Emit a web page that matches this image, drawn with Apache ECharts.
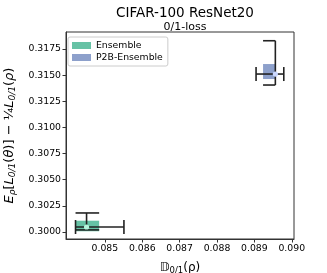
<!DOCTYPE html>
<html><head><meta charset="utf-8">
<script src="https://cdn.jsdelivr.net/npm/echarts@6/dist/echarts.min.js"></script>
<style>html,body{margin:0;padding:0;background:#fff}#c{width:327px;height:273px}</style>
</head><body><div id="c"></div>
<script>
const groups = ['Ensemble', 'P2B-Ensemble'];
const colors = ['#66c2a5', '#8da0cb'];
const pointColors = ['#b4f5dc', '#cbd8ff'];
const meanX = [0.08451, 0.089561];
const meanY = [0.300478, 0.315109];
const xErrLo = [0.084215, 0.089045];
const xErrHi = [0.08551, 0.089787];
const yErrLo = [0.30020, 0.314058];
const yErrHi = [0.30182, 0.318294];
const boxX0 = [0.084215, 0.089232];
const boxX1 = [0.084847, 0.089561];
const boxY0 = [0.30007, 0.314631];
const boxY1 = [0.30108, 0.316066];
const xTicks = [0.085, 0.086, 0.087, 0.088, 0.089, 0.090];
const yTicks = [0.3000, 0.3025, 0.3050, 0.3075, 0.3100, 0.3125, 0.3150, 0.3175];

const chart = echarts.init(document.getElementById('c'));
const ec = '#222';
function makeSeries(i) {
  return {
    name: groups[i], type: 'custom', coordinateSystem: 'cartesian2d',
    itemStyle: {color: colors[i]},
    data: [[meanX[i], meanY[i]]],
    renderItem: function (params, api) {
      const b0 = api.coord([boxX0[i], boxY0[i]]);
      const b1 = api.coord([boxX1[i], boxY1[i]]);
      const m = api.coord([meanX[i], meanY[i]]);
      const xl = api.coord([xErrLo[i], meanY[i]]);
      const xh = api.coord([xErrHi[i], meanY[i]]);
      const yl = api.coord([meanX[i], yErrLo[i]]);
      const yh = api.coord([meanX[i], yErrHi[i]]);
      const ls = {stroke: ec, lineWidth: 1.6};
      const cap = 7;
      return {type: 'group', children: [
        {type: 'rect', shape: {x: Math.min(b0[0], b1[0]), y: Math.min(b0[1], b1[1]), width: Math.abs(b1[0] - b0[0]), height: Math.abs(b1[1] - b0[1])}, style: {fill: colors[i]}},
        {type: 'line', shape: {x1: xl[0], y1: m[1], x2: xh[0], y2: m[1]}, style: ls},
        {type: 'line', shape: {x1: xl[0], y1: m[1] - cap, x2: xl[0], y2: m[1] + cap}, style: ls},
        {type: 'line', shape: {x1: xh[0], y1: m[1] - cap, x2: xh[0], y2: m[1] + cap}, style: ls},
        {type: 'line', shape: {x1: m[0], y1: yl[1], x2: m[0], y2: yh[1]}, style: ls},
        {type: 'line', shape: {x1: b0[0], y1: yh[1], x2: b1[0], y2: yh[1]}, style: ls},
        {type: 'line', shape: {x1: b0[0], y1: yl[1], x2: b1[0], y2: yl[1]}, style: ls},
        {type: 'circle', shape: {cx: m[0], cy: m[1], r: 2.6}, style: {fill: pointColors[i]}}
      ]};
    }
  };
}
const ff = 'DejaVu Sans';
chart.setOption({
  animation: false,
  textStyle: {fontFamily: ff},
  title: [
    {text: 'CIFAR-100 ResNet20', left: 180, top: 1, textAlign: 'center', textStyle: {fontSize: 13.5, fontWeight: 'normal', color: '#000', fontFamily: ff}},
    {text: '0/1-loss', left: 180, top: 17, textAlign: 'center', textStyle: {fontSize: 11, fontWeight: 'normal', color: '#000', fontFamily: ff}}
  ],
  legend: {
    left: 68, top: 37, orient: 'vertical', icon: 'rect', itemWidth: 19, itemHeight: 7, itemGap: 3,
    padding: [4, 5, 4, 4], borderColor: '#ccc', borderWidth: 1, borderRadius: 2,
    textStyle: {fontSize: 9.3, color: '#000', fontFamily: ff},
    data: groups
  },
  grid: {left: 66, right: 33, top: 32, bottom: 34, show: true, borderColor: '#333', borderWidth: 1, containLabel: false, outerBoundsMode: 'none'},
  xAxis: {
    type: 'value', min: 0.08396, max: 0.09006,
    name: '{d|𝔻}{s|0/1}(ρ)', nameLocation: 'middle', nameGap: 21,
    nameTextStyle: {rich: {d: {fontSize: 12, fontFamily: ff, color: '#000'}, s: {fontSize: 8.5, fontFamily: ff, color: '#000', verticalAlign: 'bottom', padding: [6, 0, 0, 0]}}, fontSize: 12, color: '#000'},
    splitLine: {show: false},
    axisLine: {show: true, lineStyle: {color: '#333'}},
    axisTick: {show: true, length: 3.5, customValues: xTicks, lineStyle: {color: '#333'}},
    axisLabel: {customValues: xTicks, fontSize: 9.3, color: '#000', margin: 5, formatter: v => v.toFixed(3)}
  },
  yAxis: {
    type: 'value', min: 0.29933, max: 0.31913,
    name: '{i|E}{s|ρ}[{i|L}{s|0/1}({i|θ})] − ¼{i|L}{s|0/1}({i|ρ})', nameLocation: 'middle', nameGap: 46,
    nameTextStyle: {rich: {
      i: {fontSize: 13, fontStyle: 'italic', fontFamily: ff, color: '#000'},
      s: {fontSize: 9, fontStyle: 'italic', fontFamily: ff, color: '#000', verticalAlign: 'bottom', padding: [7, 0, 0, 0]}
    }, fontSize: 13, color: '#000'},
    splitLine: {show: false},
    axisLine: {show: true, lineStyle: {color: '#333'}},
    axisTick: {show: true, length: 3.5, customValues: yTicks, lineStyle: {color: '#333'}},
    axisLabel: {customValues: yTicks, fontSize: 9.3, color: '#000', margin: 5, formatter: v => v.toFixed(4)}
  },
  series: [makeSeries(0), makeSeries(1)]
});
</script></body></html>
